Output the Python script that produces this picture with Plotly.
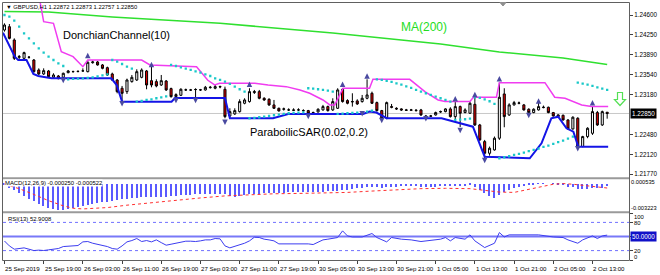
import plotly.graph_objects as go

# ---------------- data ----------------
time_labels = ["25 Sep 2019", "25 Sep 19:00", "26 Sep 03:00", "26 Sep 11:00", "26 Sep 19:00",
               "27 Sep 03:00", "27 Sep 11:00", "27 Sep 19:00", "30 Sep 05:00", "30 Sep 13:00",
               "30 Sep 21:00", "1 Oct 05:00", "1 Oct 13:00", "1 Oct 21:00", "2 Oct 05:00", "2 Oct 13:00"]
tick_index = [0, 8, 16, 24, 32, 40, 48, 56, 64, 72, 80, 88, 96, 104, 112, 120]

ohlc = [
 (1.24333,1.24452,1.24304,1.24422),(1.24392,1.24440,1.24167,1.24185),(1.24156,1.24185,1.23800,1.23830),
 (1.23848,1.23889,1.23812,1.23860),(1.23830,1.23948,1.23800,1.23931),(1.23848,1.23871,1.23824,1.23850),
 (1.23800,1.23818,1.23575,1.23593),(1.23623,1.23652,1.23534,1.23552),(1.23552,1.23652,1.23534,1.23611),
 (1.23605,1.23623,1.23487,1.23504),(1.23492,1.23564,1.23475,1.23534),(1.23516,1.23534,1.23457,1.23469),
 (1.23492,1.23575,1.23469,1.23564),(1.23575,1.23623,1.23564,1.23605),(1.23593,1.23611,1.23575,1.23595),
 (1.23595,1.23611,1.23581,1.23599),(1.23605,1.23652,1.23593,1.23607),(1.23593,1.23800,1.23581,1.23759),
 (1.23753,1.23789,1.23735,1.23765),(1.23765,1.23783,1.23700,1.23712),(1.23712,1.23729,1.23635,1.23652),
 (1.23664,1.23682,1.23516,1.23534),(1.23552,1.23575,1.23427,1.23445),(1.23445,1.23463,1.23208,1.23238),
 (1.23298,1.23339,1.23065,1.23208),(1.23238,1.23469,1.23197,1.23445),(1.23416,1.23534,1.23398,1.23492),
 (1.23445,1.23635,1.23427,1.23593),(1.23492,1.23652,1.23475,1.23623),(1.23605,1.23623,1.23280,1.23356),
 (1.23433,1.23723,1.23315,1.23356),(1.23416,1.23457,1.23315,1.23339),(1.23356,1.23534,1.23339,1.23433),
 (1.23427,1.23445,1.23250,1.23268),(1.23292,1.23309,1.23131,1.23149),(1.23149,1.23208,1.23131,1.23185),
 (1.23173,1.23298,1.23161,1.23280),(1.23268,1.23292,1.23250,1.23270),(1.23268,1.23286,1.23250,1.23266),
 (1.23274,1.23298,1.23125,1.23276),(1.23268,1.23286,1.23250,1.23270),(1.23268,1.23339,1.23256,1.23315),
 (1.23309,1.23339,1.23292,1.23315),(1.23298,1.23357,1.23280,1.23327),(1.23321,1.23345,1.23298,1.23327),
 (1.23280,1.23327,1.22765,1.22794),(1.22806,1.22942,1.22783,1.22883),(1.22842,1.22942,1.22824,1.22901),
 (1.22883,1.23102,1.22866,1.23061),(1.23031,1.23120,1.23013,1.23090),(1.23061,1.23298,1.23043,1.23238),
 (1.23221,1.23268,1.23197,1.23238),(1.23238,1.23268,1.23102,1.23120),(1.23120,1.23138,1.23073,1.23090),
 (1.23102,1.23120,1.22984,1.23002),(1.23002,1.23090,1.22931,1.22942),(1.22942,1.22954,1.22883,1.22895),
 (1.22925,1.22954,1.22901,1.22931),(1.22913,1.22942,1.22895,1.22913),(1.22913,1.22942,1.22895,1.22907),
 (1.22913,1.22942,1.22895,1.22913),(1.22901,1.22925,1.22883,1.22901),(1.22901,1.22913,1.22842,1.22854),
 (1.22860,1.22883,1.22842,1.22866),(1.22877,1.22942,1.22866,1.22925),(1.22913,1.23002,1.22901,1.22972),
 (1.22972,1.22990,1.22883,1.22901),(1.22913,1.23120,1.22895,1.23061),(1.22942,1.23298,1.22931,1.23268),
 (1.23280,1.23300,1.23043,1.23061),(1.23079,1.23102,1.23013,1.23031),(1.23055,1.23209,1.22972,1.23061),
 (1.23073,1.23102,1.23002,1.23019),(1.23061,1.23179,1.23043,1.23120),(1.23120,1.23457,1.23102,1.23179),
 (1.23209,1.23238,1.23019,1.23031),(1.23043,1.23061,1.22883,1.22901),(1.22901,1.22913,1.22735,1.22765),
 (1.22765,1.23061,1.22747,1.23043),(1.22972,1.23019,1.22942,1.22960),(1.22942,1.22960,1.22913,1.22931),
 (1.22931,1.22942,1.22895,1.22913),(1.22913,1.22931,1.22895,1.22907),(1.22907,1.22931,1.22895,1.22913),
 (1.22901,1.22925,1.22883,1.22907),(1.22913,1.22931,1.22806,1.22824),(1.22806,1.22824,1.22777,1.22794),
 (1.22800,1.22824,1.22788,1.22806),(1.22824,1.22883,1.22812,1.22866),(1.22877,1.22901,1.22860,1.22883),
 (1.22883,1.22942,1.22871,1.22931),(1.22931,1.22960,1.22777,1.22794),(1.22794,1.23061,1.22735,1.22972),
 (1.22972,1.22990,1.22610,1.22854),(1.22866,1.22942,1.22854,1.22913),(1.22854,1.23061,1.22842,1.23031),
 (1.23013,1.23138,1.22628,1.22646),(1.22646,1.22664,1.22362,1.22380),(1.22350,1.22380,1.22054,1.22143),
 (1.22143,1.22262,1.22100,1.22232),(1.22202,1.22440,1.22190,1.22410),(1.22410,1.23398,1.22380,1.23138),
 (1.23197,1.23298,1.22605,1.22794),(1.22824,1.23031,1.22806,1.23002),(1.23002,1.23073,1.22990,1.23043),
 (1.23031,1.23061,1.23013,1.23037),(1.23002,1.23019,1.22901,1.22913),(1.22925,1.22942,1.22824,1.22866),
 (1.22866,1.22942,1.22854,1.22925),(1.22913,1.23061,1.22901,1.22972),(1.22954,1.22990,1.22942,1.22960),
 (1.22960,1.22972,1.22854,1.22866),(1.22866,1.22877,1.22794,1.22806),(1.22824,1.22836,1.22783,1.22794),
 (1.22818,1.22830,1.22723,1.22735),(1.22735,1.22747,1.22563,1.22575),(1.22575,1.22800,1.22563,1.22783),
 (1.22765,1.22783,1.22247,1.22262),(1.22262,1.22453,1.22250,1.22439),(1.22439,1.22605,1.22410,1.22587),
 (1.22498,1.22972,1.22469,1.22883),(1.22866,1.22895,1.22628,1.22646),(1.22646,1.22901,1.22628,1.22883),
 (1.22872,1.22873,1.22757,1.22850),
]
opens = [r[0] for r in ohlc]
highs = [r[1] for r in ohlc]
lows = [r[2] for r in ohlc]
closes = [r[3] for r in ohlc]
bars = list(range(len(ohlc)))

sar = [1.24600,1.24570,1.24499,1.24392,1.24274,1.24185,1.24097,1.24008,1.23931,1.23860,
       1.23800,1.23741,1.23694,1.23457,1.23463,1.23469,1.23475,1.23481,1.23492,1.23510,
       1.23528,1.23546,1.23800,1.23771,1.23729,1.23682,1.23646,1.23060,1.23072,1.23090,
       1.23102,1.23120,1.23137,1.23155,1.23712,1.23694,1.23670,1.23646,1.23623,1.23599,
       1.23575,1.23546,1.23516,1.23475,1.23446,1.23416,1.23375,1.23327,1.23280,1.23238,
       1.22765,1.22771,1.22783,1.22794,1.22806,1.22818,1.22830,1.22842,1.22854,1.22860,
       1.22866,1.22871,1.23298,1.23292,1.23280,1.23268,1.23256,1.23238,1.22842,1.22848,
       1.22854,1.22860,1.22866,1.22871,1.22883,1.22901,1.23457,1.23446,1.23428,1.23410,
       1.23386,1.23363,1.23333,1.23304,1.23268,1.23238,1.23209,1.23179,1.23150,1.23120,
       1.23090,1.23061,1.22735,1.22741,1.22747,1.22759,1.23138,1.23126,1.23102,1.23067,
       1.23019,1.22054,1.22072,1.22090,1.22114,1.22131,1.22155,1.22179,1.22202,1.22226,
       1.22256,1.22280,1.22309,1.22339,1.22368,1.22404,1.22439,1.23398,1.23381,1.23363,
       1.23339,1.23315,1.23292,1.23268]

ma_bar = [0, 9, 22, 44, 67, 89, 101, 114, 123]
ma_val = [1.24662, 1.24653, 1.24564, 1.24453, 1.24280, 1.24085, 1.23943, 1.23836, 1.23720]

dc_up_bar = [7.2, 8.0, 10.0, 11.6, 14.0, 16.0, 17.0, 28.0, 29.7, 39.2, 41.5, 42.9, 43.9, 51.1, 53.8, 57.5,
             60.3, 62.3, 65.0, 66.4, 67.4, 69.1, 74.5, 75.2, 82.7, 85.8, 88.5, 89.9, 95.0, 95.7, 100.4,
             101.0, 110.3, 112.3, 114.4, 117.8, 119.8, 123.2]
dc_up_val = [1.24866, 1.24481, 1.24452, 1.23948, 1.23860, 1.23682, 1.23800, 1.23800, 1.23712, 1.23682,
             1.23440, 1.23357, 1.23386, 1.23386, 1.23357, 1.23327, 1.23268, 1.23209, 1.23090, 1.23002,
             1.23002, 1.23298, 1.23298, 1.23457, 1.23457, 1.23238, 1.23090, 1.23061, 1.23061, 1.23138,
             1.23138, 1.23398, 1.23398, 1.23138, 1.23120, 1.23002, 1.22972, 1.22972]
dc_lo_bar = [-0.3, 2.1, 2.8, 4.5, 5.9, 6.9, 9.6, 21.8, 22.9, 24.0, 34.1, 34.8, 45.0, 46.0, 54.8, 56.9, 57.9,
             73.2, 74.5, 75.9, 78.0, 84.1, 89.2, 95.6, 98.0, 107.2, 109.6, 111.6, 113.0, 114.7, 116.1,
             117.1, 123.2]
dc_lo_val = [1.24286, 1.23860, 1.23800, 1.23800, 1.23552, 1.23516, 1.23475, 1.23475, 1.23356, 1.23060,
             1.23060, 1.23125, 1.23125, 1.22765, 1.22765, 1.22824, 1.22842, 1.22842, 1.22883, 1.22866,
             1.22765, 1.22765, 1.22764, 1.22615, 1.22082, 1.22054, 1.22320, 1.22764, 1.22793, 1.22587,
             1.22526, 1.22260, 1.22260]

frac_up_bar = [17, 30, 50, 69, 74, 92, 96, 101, 109, 120]
frac_up_val = [1.23931, 1.23771, 1.23416, 1.23416, 1.23564, 1.23161, 1.23238, 1.23517, 1.23120, 1.23090]
frac_dn_bar = [12, 24, 35, 39, 45, 62, 73, 77, 86, 93, 98, 107, 117]
frac_dn_val = [1.23386, 1.22972, 1.23031, 1.23031, 1.22646, 1.22747, 1.22794, 1.22676, 1.22706,
               1.22498, 1.21966, 1.22765, 1.22173]

price_ticks = [1.24600, 1.24250, 1.23890, 1.23540, 1.23180, 1.22480, 1.22120, 1.21770]
last_price = 1.22850

macd_main = [-0.00019,-0.00048,-0.00080,-0.00112,-0.00141,-0.00181,-0.00209,-0.00242,-0.00262,-0.00282,
             -0.00294,-0.00310,-0.00310,-0.00294,-0.00282,-0.00270,-0.00262,-0.00250,-0.00242,-0.00229,
             -0.00221,-0.00213,-0.00201,-0.00193,-0.00185,-0.00177,-0.00173,-0.00169,-0.00161,-0.00161,
             -0.00161,-0.00161,-0.00157,-0.00153,-0.00145,-0.00141,-0.00137,-0.00132,-0.00132,-0.00128,
             -0.00128,-0.00124,-0.00120,-0.00120,-0.00120,-0.00128,-0.00149,-0.00153,-0.00145,-0.00137,
             -0.00128,-0.00120,-0.00120,-0.00116,-0.00112,-0.00108,-0.00108,-0.00106,-0.00104,-0.00102,
             -0.00100,-0.00100,-0.00100,-0.00098,-0.00096,-0.00094,-0.00092,-0.00090,-0.00085,-0.00075,
             -0.00070,-0.00062,-0.00058,-0.00052,-0.00045,-0.00042,-0.00045,-0.00052,-0.00045,-0.00038,
             -0.00035,-0.00033,-0.00032,-0.00032,-0.00033,-0.00035,-0.00037,-0.00037,-0.00035,-0.00032,
             -0.00028,-0.00030,-0.00025,-0.00025,-0.00024,-0.00020,-0.00040,-0.00075,-0.00115,-0.00150,
             -0.00170,-0.00130,-0.00100,-0.00075,-0.00055,-0.00040,-0.00030,-0.00020,-0.00012,-0.00005,
             0.00002,0.00000,-0.00005,-0.00010,-0.00020,-0.00035,-0.00045,-0.00060,-0.00068,-0.00062,
             -0.00055,-0.00055,-0.00048,-0.00025]
signal_bar = [0, 3, 6, 9, 12, 14, 16, 18, 21, 25, 30, 35, 40, 45, 50, 55, 60, 66, 70, 75, 80, 85, 90,
              95, 98, 101, 104, 107, 110, 112, 114, 116, 118, 120, 123]
signal_val = [-0.00008, -0.00060, -0.00128, -0.00201, -0.00262, -0.00290, -0.00298, -0.00294, -0.00282,
              -0.00254, -0.00225, -0.00193, -0.00169, -0.00145, -0.00128, -0.00120, -0.00116, -0.00112,
              -0.00104, -0.00088, -0.00072, -0.00060, -0.00056, -0.00060, -0.00080, -0.00100, -0.00104,
              -0.00072, -0.00032, -0.00008, 0.00000, -0.00008, -0.00020, -0.00032, -0.000522]

rsi_bar = [0, 1, 2, 3, 4, 5, 6, 7, 8, 9, 10, 11, 12, 13, 14, 15, 16, 17, 18, 19, 20, 21, 22, 23, 24, 25,
           26, 27, 28, 29, 30, 31, 32, 33, 34, 35, 36, 37, 38, 39, 40, 41, 42, 43, 44, 45, 46, 47, 48, 49,
           50, 51, 52, 53, 54, 55, 56, 57, 58, 59, 60, 61, 62, 63, 64, 65, 66, 68, 69, 70, 71, 73, 75,
           76, 78, 79, 81, 83, 85, 87, 89, 90, 91, 92, 94, 95, 96, 98, 100, 101, 102, 103, 106, 109, 112,
           114, 115, 117, 118, 120, 121, 122, 123]
rsi_val = [40.4, 30.0, 23.0, 23.8, 25.8, 23.0, 20.1, 21.0, 20.2, 21.6, 23.0, 24.4, 28.6, 29.4, 30.0, 30.8,
           38.6, 39.3, 35.7, 33.6, 31.5, 28.6, 24.4, 23.0, 30.0, 38.6, 41.4, 45.7, 39.3, 41.4, 38.6, 42.8,
           37.0, 31.5, 33.6, 35.7, 38.6, 40.0, 40.0, 39.3, 40.7, 42.8, 42.8, 45.7, 45.0, 30.0, 25.8, 28.6,
           31.5, 35.7, 40.7, 48.5, 47.8, 44.3, 42.8, 40.7, 34.3, 34.3, 33.6, 34.3, 33.6, 35.0, 34.3, 32.9,
           38.6, 42.8, 44.3, 47.8, 62.0, 51.3, 49.0, 49.0, 56.3, 47.8, 38.6, 47.8, 44.3, 42.8, 39.3, 42.1,
           44.3, 47.8, 40.7, 47.8, 44.3, 53.5, 40.7, 26.5, 35.7, 58.4, 49.0, 53.5, 53.5, 53.5, 49.0, 47.8,
           42.8, 35.7, 42.8, 51.3, 45.7, 51.3, 52.9]
rsi_levels = [80, 20]
rsi_mid = 50

# ---------------- geometry helpers (pixel -> paper) ----------------
W, H = 660, 275
ML, MR, MT, MB = 3, 31, 2, 15
PW, PH = W - ML - MR, H - MT - MB


def px(x):
    return (x - ML) / PW


def py(y):
    return (H - MB - y) / PH


FONT = "Liberation Sans"
fig = go.Figure()

fig.add_trace(go.Candlestick(
    x=bars, open=opens, high=highs, low=lows, close=closes,
    increasing=dict(fillcolor="white", line=dict(color="black", width=1)),
    decreasing=dict(fillcolor="#e00000", line=dict(color="black", width=1)),
    whiskerwidth=0, xaxis="x", yaxis="y", hoverinfo="skip"))

fig.add_trace(go.Scatter(x=ma_bar, y=ma_val, mode="lines", line=dict(color="#2fe02f", width=1.6),
                         xaxis="x", yaxis="y", hoverinfo="skip"))
fig.add_trace(go.Scatter(x=dc_up_bar, y=dc_up_val, mode="lines", line=dict(color="#f03cf0", width=1.5),
                         xaxis="x", yaxis="y", hoverinfo="skip"))
fig.add_trace(go.Scatter(x=dc_lo_bar, y=dc_lo_val, mode="lines", line=dict(color="#1414e6", width=2),
                         xaxis="x", yaxis="y", hoverinfo="skip"))
fig.add_trace(go.Scatter(x=bars, y=sar, mode="markers",
                         marker=dict(color="#19c8c8", size=2.3, symbol="square", line=dict(width=0)),
                         xaxis="x", yaxis="y", hoverinfo="skip"))
fig.add_trace(go.Scatter(x=frac_up_bar, y=frac_up_val, mode="markers",
                         marker=dict(color="#4a4aa0", size=5.5, symbol="arrow-up", line=dict(width=0)),
                         xaxis="x", yaxis="y", hoverinfo="skip"))
fig.add_trace(go.Scatter(x=frac_dn_bar, y=frac_dn_val, mode="markers",
                         marker=dict(color="#4a4aa0", size=5.5, symbol="arrow-down", line=dict(width=0)),
                         xaxis="x", yaxis="y", hoverinfo="skip"))

fig.add_trace(go.Bar(x=bars, y=macd_main, width=0.3, marker=dict(color="#5a5aff", line=dict(width=0)),
                     xaxis="x", yaxis="y2", hoverinfo="skip"))
fig.add_trace(go.Scatter(x=signal_bar, y=signal_val, mode="lines",
                         line=dict(color="#ff3030", width=1, dash="dot"),
                         xaxis="x", yaxis="y2", hoverinfo="skip"))

fig.add_trace(go.Scatter(x=rsi_bar, y=rsi_val, mode="lines", line=dict(color="#3c3cf0", width=1),
                         xaxis="x", yaxis="y3", hoverinfo="skip"))

shapes = []
shapes.append(dict(type="line", xref="paper", yref="y", x0=0, x1=1, y0=last_price, y1=last_price,
                   line=dict(color="#c8c8c8", width=1), layer="below"))
for lv in rsi_levels:
    shapes.append(dict(type="line", xref="paper", yref="y3", x0=0, x1=1, y0=lv, y1=lv,
                       line=dict(color="#7070ff", width=1, dash="dot"), layer="below"))
shapes.append(dict(type="line", xref="paper", yref="y3", x0=0, x1=1, y0=rsi_mid, y1=rsi_mid,
                   line=dict(color="#7878f8", width=2), layer="below"))
for ysep in (178.3, 212.2):
    shapes.append(dict(type="line", xref="paper", yref="paper", x0=px(2.5), x1=px(629.5),
                       y0=py(ysep), y1=py(ysep), line=dict(color="#9a9a9a", width=2)))
shapes.append(dict(type="rect", xref="paper", yref="paper", x0=px(2.5), x1=px(629.5), y0=py(260.5),
                   y1=py(2.5), line=dict(color="#606060", width=1)))
ax0 = 620
arrow_pts = [(ax0 - 2.5, 92.5), (ax0 + 2.5, 92.5), (ax0 + 2.5, 99.5), (ax0 + 5.5, 99.5), (ax0, 105.5),
             (ax0 - 5.5, 99.5), (ax0 - 2.5, 99.5)]
path = "M " + " L ".join(f"{px(a):.5f},{py(b):.5f}" for a, b in arrow_pts) + " Z"
shapes.append(dict(type="path", xref="paper", yref="paper", path=path,
                   line=dict(color="#55e055", width=1.2), fillcolor="rgba(0,0,0,0)"))
shapes.append(dict(type="path", xref="paper", yref="paper",
                   path=f"M {px(500):.5f},{py(2.5):.5f} L {px(506):.5f},{py(2.5):.5f} L {px(503):.5f},{py(6):.5f} Z",
                   line=dict(color="#909090", width=1), fillcolor="#909090"))

ann = []
tiny = dict(family=FONT, size=5.9, color="black")
ann.append(dict(text="\u25BC GBPUSD,H1 1.22872 1.22873 1.22757 1.22850", xref="paper", yref="paper",
                x=px(4), y=py(6.5), xanchor="left", yanchor="middle", showarrow=False,
                font=dict(family=FONT, size=5.8, color="black")))
ann.append(dict(text="DonchianChannel(10)", xref="paper", yref="paper", x=px(61), y=py(35),
                xanchor="left", yanchor="middle", showarrow=False,
                font=dict(family=FONT, size=11, color="black")))
ann.append(dict(text="MA(200)", xref="paper", yref="paper", x=px(399), y=py(27),
                xanchor="left", yanchor="middle", showarrow=False,
                font=dict(family=FONT, size=12, color="#22dd22")))
ann.append(dict(text="ParaboilicSAR(0.02,0.2)", xref="paper", yref="paper", x=px(248), y=py(132),
                xanchor="left", yanchor="middle", showarrow=False,
                font=dict(family=FONT, size=11, color="black")))
ann.append(dict(text="MACD(12,26,9) -0.000250 -0.000522", xref="paper", yref="paper", x=px(4), y=py(183.5),
                xanchor="left", yanchor="middle", showarrow=False, font=tiny, bgcolor="white", borderpad=0))
ann.append(dict(text="RSI(13) 52.9008", xref="paper", yref="paper", x=px(6), y=py(219.5),
                xanchor="left", yanchor="middle", showarrow=False, font=tiny))
ann.append(dict(text=f"{last_price:.5f}", xref="paper", yref="y", x=1, y=last_price, xanchor="left",
                yanchor="middle", xshift=1, showarrow=False, bgcolor="black", borderpad=1,
                font=dict(family=FONT, size=6.3, color="white")))
for txt, yy in (("0.000535", 182), ("-0.003223", 207.7)):
    ann.append(dict(text=txt, xref="paper", yref="paper", x=1, y=py(yy), xanchor="left", yanchor="middle",
                    xshift=0, showarrow=False, font=dict(family=FONT, size=5.7, color="black")))
for txt, yy in (("100", 216.7), ("80", 222.7), ("20", 250.7), ("0", 256.7)):
    ann.append(dict(text=txt, xref="paper", yref="paper", x=1, y=py(yy), xanchor="left", yanchor="middle",
                    xshift=3, showarrow=False, font=tiny))
ann.append(dict(text=f"{rsi_mid:.4f}", xref="paper", yref="y3", x=1, y=rsi_mid, xanchor="left",
                yanchor="middle", xshift=1, showarrow=False, bgcolor="#1010c8", borderpad=1,
                font=dict(family=FONT, size=6.3, color="white")))
for ti, tl in zip(tick_index, time_labels):
    ann.append(dict(text=tl, xref="x", yref="paper", x=ti, y=py(268), xanchor="left", yanchor="middle",
                    xshift=-1, showarrow=False, font=dict(family=FONT, size=6.1, color="black")))

fig.update_layout(
    width=W, height=H, margin=dict(l=ML, r=MR, t=MT, b=MB),
    paper_bgcolor="white", plot_bgcolor="white", showlegend=False,
    boxgap=0.4, bargap=0,
    xaxis=dict(range=[-0.3, -0.3 + PW / 4.9], anchor="y3", showgrid=False, zeroline=False,
               tickvals=tick_index, ticks="outside", ticklen=3, tickcolor="#404040",
               showticklabels=False, rangeslider=dict(visible=False), fixedrange=True),
    yaxis=dict(domain=[py(177.5), py(2)], range=[1.21712, 1.24831], side="right", anchor="x",
               tickvals=price_ticks, ticktext=[f"{v:.5f}" for v in price_ticks], ticks="outside",
               ticklen=3, tickcolor="#404040", showgrid=False, zeroline=False,
               tickfont=dict(family=FONT, size=6.3, color="black")),
    yaxis2=dict(domain=[py(211), py(179)], range=[-0.003223, 0.000535], side="right", anchor="x",
                showgrid=False, zeroline=False, showticklabels=False,
                tickvals=[-0.003223, 0.000535], ticks=""),
    yaxis3=dict(domain=[py(260), py(213)], range=[0, 100], side="right", anchor="x",
                showgrid=False, zeroline=False, showticklabels=False,
                tickvals=[0, 20, 50, 80, 100], ticks="outside", ticklen=3, tickcolor="#404040"),
    shapes=shapes, annotations=ann,
)

fig.write_html("out.html")
